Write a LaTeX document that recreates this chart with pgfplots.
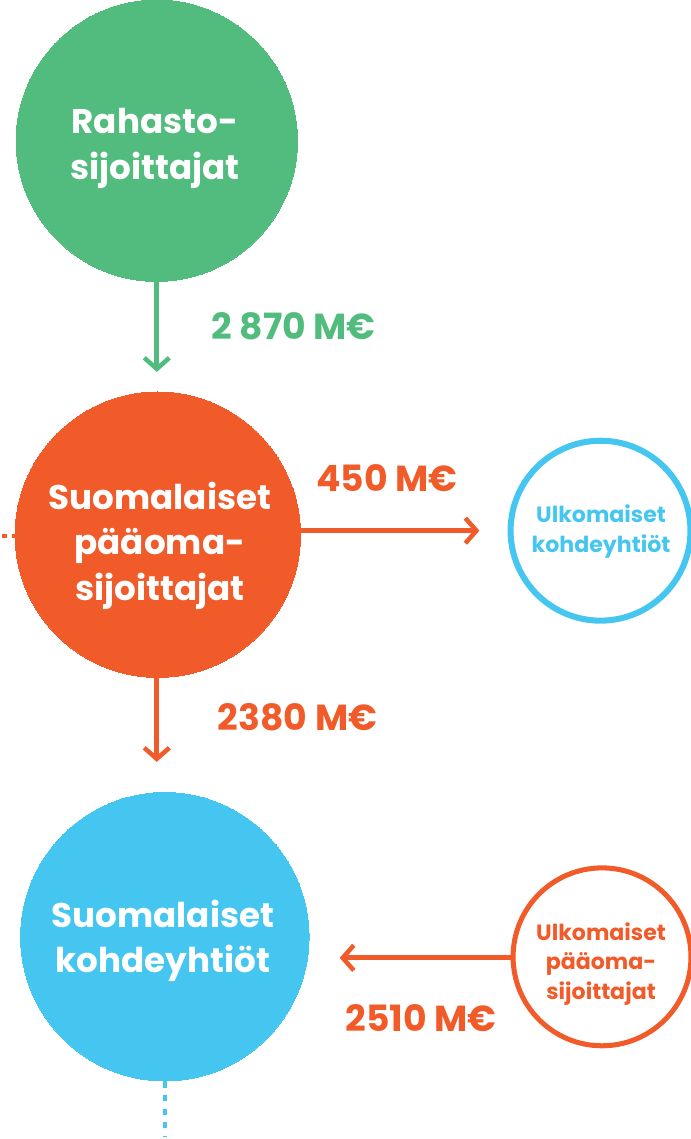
\documentclass[border=0pt]{standalone}
\usepackage{pgfplots}
\pgfplotsset{compat=1.18}
\usepackage{fontspec}
\setmainfont{Poppins}
\usetikzlibrary{arrows.meta}
\definecolor{cgreen}{HTML}{52BC7F}
\definecolor{corange}{HTML}{F15A29}
\definecolor{cblue}{HTML}{45C6F0}
\tikzset{big/.style={font=\bfseries\fontsize{34}{45.5}\selectfont},
  lab/.style={font=\bfseries\fontsize{36}{44}\selectfont},
  small/.style={font=\bfseries\fontsize{22}{29.5}\selectfont},
  arr/.style={line width=5pt, -{Straight Barb[length=11pt,width=25pt,line width=4.5pt]}}}
\begin{document}
\begin{tikzpicture}
\begin{axis}[width=693pt,height=1139pt,scale only axis,xmin=0,xmax=693,ymin=0,ymax=1139,y dir=reverse,hide axis,clip=false]
% filled circles
\addplot[cgreen, only marks, mark=*, mark size=140pt, mark options={draw=cgreen, fill=cgreen, line width=0pt}] coordinates {(154,148)};
\addplot[corange, only marks, mark=*, mark size=142pt, mark options={draw=corange, fill=corange, line width=0pt}] coordinates {(155,540)};
\addplot[cblue, only marks, mark=*, mark size=143.5pt, mark options={draw=cblue, fill=cblue, line width=0pt}] coordinates {(162,940)};
% outline circles
\addplot[cblue, only marks, mark=o, mark size=89.5pt, mark options={draw=cblue, line width=6pt, fill=none}] coordinates {(595.5,536)};
\addplot[corange, only marks, mark=o, mark size=88.5pt, mark options={draw=corange, line width=5pt, fill=none}] coordinates {(597,960)};
% arrows
\addplot[cgreen, arr] coordinates {(154,287) (154,378)};
\addplot[corange, arr] coordinates {(297,536) (475,536)};
\addplot[corange, arr] coordinates {(154,681) (154,766)};
\addplot[corange, arr] coordinates {(506,961) (336,961)};
% dashed / dotted lines
\addplot[corange, line width=4pt, dash pattern=on 5pt off 5pt] coordinates {(0,541) (15,541)};
\addplot[cblue, line width=4.5pt, dash pattern=on 6pt off 7.5pt] coordinates {(162,1084) (162,1139)};
% anchor coordinates for texts
\coordinate (t1) at (axis cs:152,156);
\coordinate (t2) at (axis cs:157,551);
\coordinate (t3) at (axis cs:160,944);
\coordinate (t4) at (axis cs:596,537);
\coordinate (t5) at (axis cs:596,967);
\coordinate (l1) at (axis cs:290,333);
\coordinate (l2) at (axis cs:383,484);
\coordinate (l3) at (axis cs:294,722);
\coordinate (l4) at (axis cs:417,1021);
\end{axis}
\node[big, text=white, align=center] at (t1) {Rahasto-\\sijoittajat};
\node[big, text=white, align=center] at (t2) {Suomalaiset\\pääoma-\\sijoittajat};
\node[big, text=white, align=center] at (t3) {Suomalaiset\\kohdeyhtiöt};
\node[small, text=cblue, align=center] at (t4) {Ulkomaiset\\kohdeyhtiöt};
\node[small, text=corange, align=center] at (t5) {Ulkomaiset\\pääoma-\\sijoittajat};
\node[lab, text=cgreen] at (l1) {2 870 M€};
\node[lab, text=corange] at (l2) {450 M€};
\node[lab, text=corange] at (l3) {2380 M€};
\node[lab, text=corange] at (l4) {2510 M€};
\end{tikzpicture}
\end{document}
